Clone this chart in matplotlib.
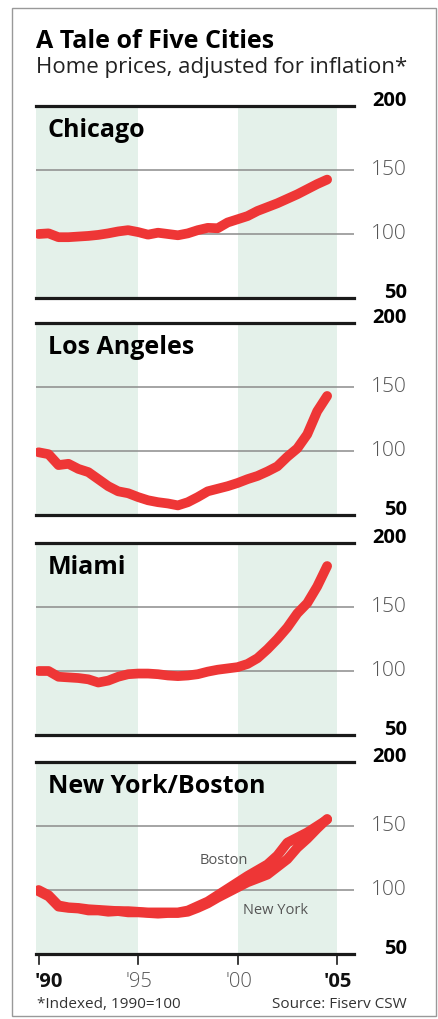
import matplotlib.pyplot as plt
from matplotlib.patches import Rectangle
from matplotlib.lines import Line2D

plt.rcParams['font.family'] = ['Open Sans', 'DejaVu Sans']

# half-year steps, 1990 to mid-2004
years = [1990.0, 1990.5, 1991.0, 1991.5, 1992.0, 1992.5, 1993.0, 1993.5, 1994.0, 1994.5,
         1995.0, 1995.5, 1996.0, 1996.5, 1997.0, 1997.5, 1998.0, 1998.5, 1999.0, 1999.5,
         2000.0, 2000.5, 2001.0, 2001.5, 2002.0, 2002.5, 2003.0, 2003.5, 2004.0, 2004.5]

chicago = [100, 100.5, 97.5, 97.5, 98, 98.5, 99.3, 100.5, 102, 103,
           101.5, 99.5, 101, 100, 99, 100.5, 103, 104.8, 104.5, 109,
           111.5, 114, 118, 121, 124, 127.5, 131, 135, 139, 142.5]
los_angeles = [99, 97.5, 89, 90, 86, 83.5, 78, 72.5, 68.5, 67,
               64, 61.5, 60, 59, 57.5, 60, 64, 68.5, 70.5, 72.5,
               75, 78, 80.5, 84, 88, 95.5, 102, 113, 131, 143]
miami = [100, 100, 95.5, 95, 94.5, 93.5, 91, 92.5, 95.5, 97.5,
         98, 98, 97.5, 96.5, 96, 96.5, 97.5, 99.5, 101, 102,
         103, 105.5, 110, 117, 125, 134, 145, 153, 166, 182]
boston = [100, 96, 88, 86.5, 86, 85, 84.5, 84, 83.5, 83.5,
          83, 82.5, 82.5, 82.5, 82.5, 84, 87.5, 91, 96, 101,
          106, 111, 115.5, 120, 127, 137, 141, 145, 150, 155]
new_york = [99, 95, 87, 86, 85.5, 84, 84, 83, 83.5, 82.5,
            82.5, 82, 81.5, 82, 82, 83, 86, 89.5, 94, 98,
            102, 106, 109, 112, 118, 124, 133, 140, 148, 155.5]

panels = [('Chicago', [chicago]),
          ('Los Angeles', [los_angeles]),
          ('Miami', [miami]),
          ('New York/Boston', [boston, new_york])]

W, H = 439, 1019
RED = '#ee3636'
BAND = '#e4f1ea'


def fx(x):
    return x / W


def fy(y):
    return 1 - y / H


fig = plt.figure(figsize=(W / 100, H / 100), dpi=100)

# outer frame
fig.patches.append(Rectangle((fx(12), fy(1016)), fx(436) - fx(12), fy(8) - fy(1016),
                             transform=fig.transFigure, fill=False, ec='#999999', lw=1))

fig.text(fx(36), fy(48), 'A Tale of Five Cities', fontsize=18, fontweight='bold', va='baseline')
fig.text(fx(36), fy(73), 'Home prices, adjusted for inflation*', fontsize=16, color='#222222',
         va='baseline')

tops = [106, 323, 543, 762]
left, right = 36, 354
x0, x1 = 1989.87, 2005.85

axes = []
for (name, series), top in zip(panels, tops):
    bottom = top + 192
    ax = fig.add_axes([fx(left), fy(bottom), fx(right) - fx(left), fy(top) - fy(bottom)])
    ax.set_xlim(x0, x1)
    ax.set_ylim(50, 200)
    ax.axvspan(x0, 1995, color=BAND, lw=0, zorder=0)
    ax.axvspan(2000, 2005, color=BAND, lw=0, zorder=0)
    for v in (100, 150):
        ax.axhline(v, color='#8c8c8c', lw=1.1, zorder=1)
    for v in (50, 200):
        ax.axhline(v, color='#1a1a1a', lw=2.3, zorder=3, clip_on=False)
    for s in series:
        ax.plot(years, s, color=RED, lw=7, solid_capstyle='round', solid_joinstyle='round',
                zorder=2)
    for sp in ax.spines.values():
        sp.set_visible(False)
    ax.set_xticks([])
    ax.set_yticks([])
    ax.patch.set_alpha(0)
    yt = ax.get_yaxis_transform()
    lx = (407 - left) / (right - left)
    ax.text(lx, 200, '200', transform=yt, ha='right', va='baseline', fontsize=14.5,
            fontweight='bold', clip_on=False)
    ax.text(lx, 150, '150', transform=yt, ha='right', va='center', fontsize=15,
            fontweight='light', color='#555555', clip_on=False)
    ax.text(lx, 100, '100', transform=yt, ha='right', va='center', fontsize=15,
            fontweight='light', color='#555555', clip_on=False)
    ax.text(lx, 50, '50', transform=yt, ha='right', va='baseline', fontsize=14.5,
            fontweight='bold', clip_on=False)
    fig.text(fx(48), fy(top + 31), name, fontsize=18, fontweight='bold', va='baseline')
    axes.append(ax)

ax = axes[-1]
ax.text(1998.09, 120.4, 'Boston', fontsize=10.5, color='#555555', va='baseline')
ax.text(2000.25, 80.9, 'New York', fontsize=10.5, color='#555555', va='baseline')

# x ticks below last panel
for yr in (1990, 1995, 2000, 2005):
    ax.add_line(Line2D([yr, yr], [50, 50 - 10 / 1.28], color='#1a1a1a', lw=1.2, clip_on=False))
xlabels = [(1990, "'90", 'bold', '#111111', 'left'),
           (1995, "'95", 'light', '#555555', 'center'),
           (2000, "'00", 'light', '#555555', 'center'),
           (2005, "'05", 'bold', '#111111', 'center')]
for yr, lab, wt, col, ha in xlabels:
    xx = yr - 0.2 if ha == 'left' else yr + 0.05
    ax.text(xx, 50 - 33 / 1.28, lab, fontsize=14.5, fontweight=wt, color=col, ha=ha,
            va='baseline', clip_on=False)

fig.text(fx(37), fy(1008), '*Indexed, 1990=100', fontsize=11, color='#333333', va='baseline')
fig.text(fx(407), fy(1008), 'Source: Fiserv CSW', fontsize=11, color='#333333', ha='right',
         va='baseline')

fig.savefig('out.png', dpi=100)
